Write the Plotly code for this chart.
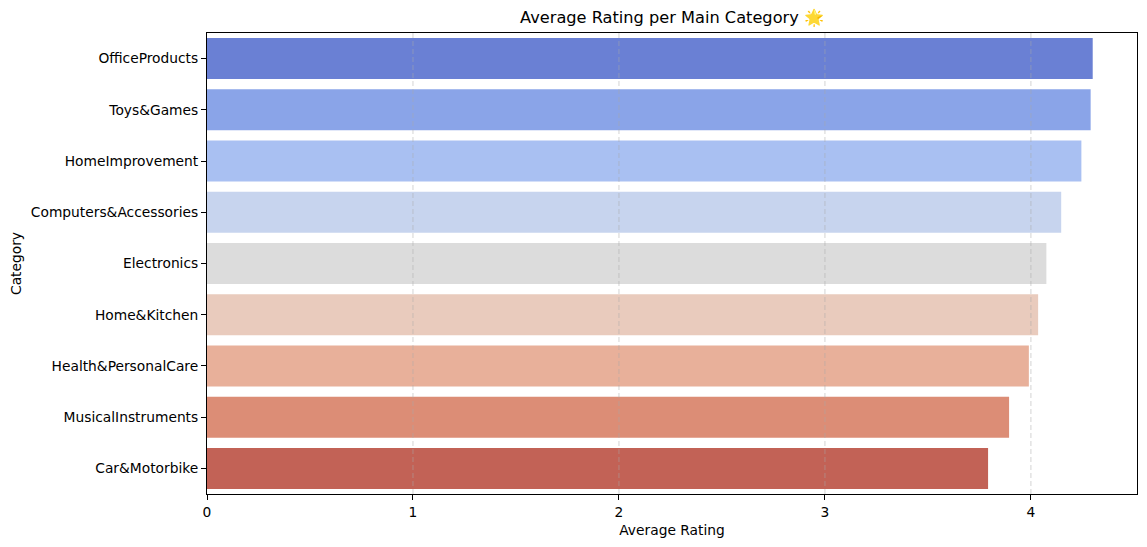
import plotly.graph_objects as go

categories = ["OfficeProducts", "Toys&Games", "HomeImprovement", "Computers&Accessories",
              "Electronics", "Home&Kitchen", "Health&PersonalCare", "MusicalInstruments",
              "Car&Motorbike"]
ratings = [4.30, 4.29, 4.245, 4.147, 4.075, 4.035, 3.99, 3.894, 3.792]
colors = ["#6a80d4", "#8aa4e8", "#a9c0f2", "#c7d4ee", "#dcdcdc",
          "#e9cbbd", "#e8b09a", "#dc8d76", "#c26256"]
x_ticks = [0, 1, 2, 3, 4]

FONT = "DejaVu Sans"

fig = go.Figure(go.Bar(
    x=ratings, y=categories, orientation="h",
    marker=dict(color=colors, line=dict(width=0)),
    width=0.8,
))

# dashed grid drawn over the bars, as in the reference
for v in x_ticks[1:]:
    fig.add_shape(type="line", xref="x", yref="paper", x0=v, x1=v, y0=0, y1=1,
                  line=dict(color="rgba(170,170,170,0.5)", width=1, dash="5px,3px"),
                  layer="above")

fig.update_layout(
    width=1147, height=547,
    margin=dict(l=207, r=10, t=33, b=53),
    paper_bgcolor="white", plot_bgcolor="white",
    font=dict(family=FONT, size=13.8, color="black"),
    title=dict(text="Average Rating per Main Category 🌟", x=0.5, xref="paper",
               xanchor="center", y=1 - 17 / 547, yanchor="middle",
               font=dict(size=16.2, family=FONT, color="black"), automargin=False),
    showlegend=False,
)
fig.update_xaxes(
    range=[0, 4.515], tickvals=x_ticks, ticktext=[str(v) for v in x_ticks],
    showgrid=False,
    showline=True, linecolor="black", linewidth=1, mirror=True,
    ticks="outside", ticklen=5, tickcolor="black",
    zeroline=False, automargin=False,
    title=dict(text="Average Rating", font=dict(size=13.8, family=FONT), standoff=6),
)
fig.update_yaxes(
    categoryorder="array", categoryarray=categories, autorange=False,
    range=[8.5, -0.5], automargin=False,
    showline=True, linecolor="black", linewidth=1, mirror=True,
    ticks="outside", ticklen=5, tickcolor="black", showgrid=False,
    title=dict(text="Category", font=dict(size=13.8, family=FONT), standoff=6),
)

fig.write_html("out.html", config={"displayModeBar": False},
               post_script="document.body.style.margin='0';document.body.style.overflow='hidden';")
